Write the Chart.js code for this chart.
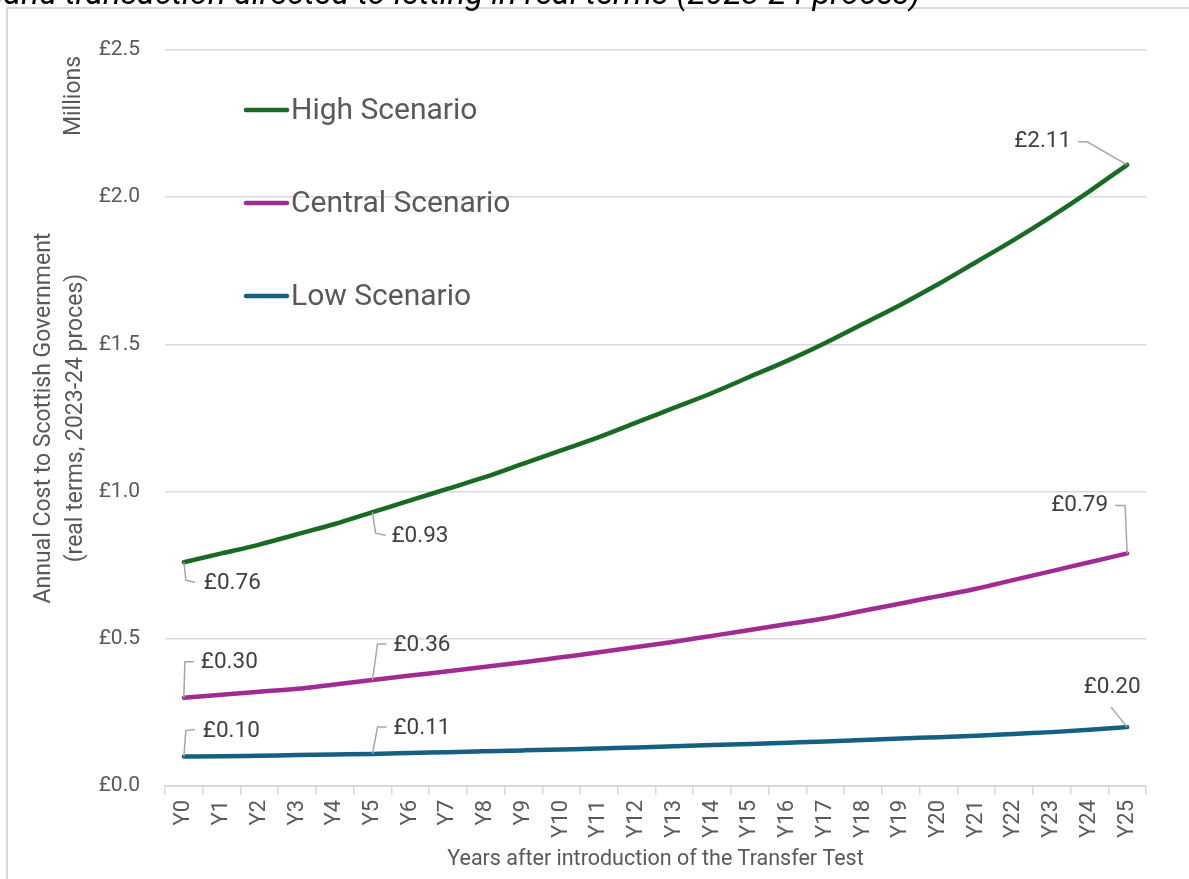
<!DOCTYPE html>
<html>
<head>
<meta charset="utf-8">
<script src="https://cdn.jsdelivr.net/npm/chart.js@4.4.0/dist/chart.umd.min.js"></script>
<style>
  html, body { margin: 0; padding: 0; background: #fff; }
  #wrap { width: 1189px; height: 879px; overflow: hidden; }
</style>
</head>
<body>
<div id="wrap"><canvas id="costChart" width="1189" height="879"></canvas></div>
<script>
// years after the Transfer Test, Y0..Y25
const years = ['Y0', 'Y1', 'Y2', 'Y3', 'Y4', 'Y5', 'Y6', 'Y7', 'Y8', 'Y9', 'Y10', 'Y11', 'Y12',
    'Y13', 'Y14', 'Y15', 'Y16', 'Y17', 'Y18', 'Y19', 'Y20', 'Y21', 'Y22', 'Y23', 'Y24', 'Y25'];

// annual cost, £ millions (real terms)
const highScenario = [0.76, 0.79, 0.82, 0.855, 0.89, 0.93, 0.97, 1.01, 1.05, 1.095, 1.14, 1.185, 1.235,
    1.285, 1.335, 1.39, 1.445, 1.505, 1.57, 1.635, 1.705, 1.78, 1.855, 1.935, 2.02, 2.11];
const centralScenario = [0.30, 0.31, 0.32, 0.33, 0.345, 0.36, 0.375, 0.39, 0.405, 0.42, 0.437, 0.454, 0.472,
    0.49, 0.51, 0.53, 0.55, 0.57, 0.595, 0.62, 0.645, 0.67, 0.70, 0.73, 0.76, 0.79];
const lowScenario = [0.100, 0.101, 0.103, 0.105, 0.107, 0.109, 0.112, 0.115, 0.118, 0.121, 0.124, 0.127, 0.131,
    0.135, 0.139, 0.143, 0.147, 0.151, 0.156, 0.161, 0.166, 0.171, 0.177, 0.183, 0.191, 0.20];

const seriesNames = ['High Scenario', 'Central Scenario', 'Low Scenario'];
const labelledYears = [0, 5, 25];

const yMin = 0;
const yMax = 2.5;
const yStep = 0.5;

const titleLine = 'land transaction directed to letting in real terms (2023-24 proces)';
const FONT = 'Roboto, "Liberation Sans", sans-serif';

// leader lines for the value labels: elbow / end / text offsets from the point
const callouts = {
    0: [
        { elbow: [2, 18], end: [11, 20], text: [20, 21], align: 'left' },
        { elbow: [3, 21], end: [13, 23], text: [19, 24], align: 'left' },
        { elbow: [-40, -23], end: [-49, -23], text: [-56, -23], align: 'right' }
    ],
    1: [
        { elbow: [1, -36], end: [10, -36], text: [17, -35], align: 'left' },
        { elbow: [5, -36], end: [14, -36], text: [21, -35], align: 'left' },
        { elbow: [-2, -48], end: [-12, -48], text: [-19, -48], align: 'right' }
    ],
    2: [
        { elbow: [2, -26], end: [11, -27], text: [19, -25], align: 'left' },
        { elbow: [5, -27], end: [14, -27], text: [21, -26], align: 'left' },
        { elbow: [-16, -20], end: [-16, -20], text: [-15, -40], align: 'center' }
    ]
};

const chartFrame = {
    id: 'chartFrame',
    beforeDraw(chart) {
        const ctx = chart.ctx;
        ctx.save();
        ctx.fillStyle = '#ffffff';
        ctx.fillRect(0, 0, chart.width, chart.height);
        ctx.strokeStyle = '#d9d9d9';
        ctx.lineWidth = 2;
        ctx.strokeRect(7, 8, chart.width + 20, chart.height + 20);

        ctx.fillStyle = '#000000';
        ctx.font = 'italic 33px ' + FONT;
        ctx.textBaseline = 'alphabetic';
        ctx.textAlign = 'left';
        ctx.fillText(titleLine, -4, 4);

        // unit note beside the value axis
        ctx.translate(74, 96);
        ctx.rotate(-Math.PI / 2);
        ctx.fillStyle = '#595959';
        ctx.font = '23px ' + FONT;
        ctx.textAlign = 'center';
        ctx.textBaseline = 'middle';
        ctx.fillText('Millions', 0, 0);
        ctx.restore();
    }
};

const legendInside = {
    id: 'legendInside',
    afterDatasetsDraw(chart) {
        const ctx = chart.ctx;
        const rows = [110, 203, 296];
        ctx.save();
        chart.data.datasets.forEach((ds, i) => {
            const y = rows[i];
            ctx.strokeStyle = ds.borderColor;
            ctx.lineWidth = 4.5;
            ctx.lineCap = 'round';
            ctx.beginPath();
            ctx.moveTo(246, y);
            ctx.lineTo(287, y);
            ctx.stroke();
            ctx.fillStyle = '#595959';
            ctx.font = '30px ' + FONT;
            ctx.textAlign = 'left';
            ctx.textBaseline = 'middle';
            ctx.fillText(ds.label, 291, y + 1);
        });
        ctx.restore();
    }
};

const valueCallouts = {
    id: 'valueCallouts',
    afterDatasetsDraw(chart) {
        const ctx = chart.ctx;
        ctx.save();
        chart.data.datasets.forEach((ds, i) => {
            const meta = chart.getDatasetMeta(i);
            labelledYears.forEach((idx, k) => {
                const pt = meta.data[idx];
                const c = callouts[i][k];
                ctx.strokeStyle = '#a6a6a6';
                ctx.lineWidth = 1.5;
                ctx.beginPath();
                ctx.moveTo(pt.x, pt.y);
                ctx.lineTo(pt.x + c.elbow[0], pt.y + c.elbow[1]);
                ctx.lineTo(pt.x + c.end[0], pt.y + c.end[1]);
                ctx.stroke();
                ctx.fillStyle = '#404040';
                ctx.font = '22.5px ' + FONT;
                ctx.textAlign = c.align;
                ctx.textBaseline = 'middle';
                ctx.fillText('£' + ds.data[idx].toFixed(2), pt.x + c.text[0], pt.y + c.text[1]);
            });
        });
        ctx.restore();
    }
};

function criarGrafico() {
    const ctx = document.getElementById('costChart').getContext('2d');
    const colours = ['#196b24', '#a02b93', '#156082'];
    const values = [highScenario, centralScenario, lowScenario];

    new Chart(ctx, {
        type: 'line',
        data: {
            labels: years,
            datasets: values.map((v, i) => ({
                label: seriesNames[i],
                data: v,
                borderColor: colours[i],
                backgroundColor: colours[i],
                borderWidth: 4.5,
                borderCapStyle: 'round',
                pointRadius: 0,
                cubicInterpolationMode: 'monotone',
                fill: false
            }))
        },
        options: {
            responsive: false,
            animation: false,
            devicePixelRatio: 1,
            layout: { padding: { left: 0, top: 50, right: 43, bottom: 0 } },
            plugins: {
                legend: { display: false },
                tooltip: { enabled: false }
            },
            scales: {
                x: {
                    offset: true,
                    afterFit(scale) { scale.height = 93; },
                    grid: {
                        offset: true,
                        drawOnChartArea: false,
                        drawTicks: true,
                        tickLength: 9,
                        color: '#d9d9d9',
                        lineWidth: 1.5
                    },
                    border: { color: '#d9d9d9', width: 2 },
                    ticks: {
                        autoSkip: false,
                        minRotation: 90,
                        maxRotation: 90,
                        padding: 5,
                        color: '#595959',
                        font: { family: FONT, size: 22 }
                    },
                    title: {
                        display: true,
                        text: 'Years after introduction of the Transfer Test',
                        color: '#595959',
                        font: { family: FONT, size: 21.5 },
                        padding: { top: 0, bottom: 6 }
                    }
                },
                y: {
                    min: yMin,
                    max: yMax,
                    afterFit(scale) { scale.width = 165; },
                    grid: {
                        drawTicks: false,
                        color: '#d9d9d9',
                        lineWidth: 1.5
                    },
                    border: { display: false },
                    ticks: {
                        stepSize: yStep,
                        padding: 25,
                        color: '#595959',
                        font: { family: FONT, size: 21 },
                        callback: v => '£' + v.toFixed(1)
                    },
                    title: {
                        display: true,
                        text: ['Annual Cost to Scottish Government', '(real terms, 2023-24 proces)'],
                        color: '#595959',
                        font: { family: FONT, size: 23, lineHeight: 1.4 },
                        padding: { top: 28, bottom: 0 }
                    }
                }
            }
        },
        plugins: [chartFrame, legendInside, valueCallouts]
    });
}

document.addEventListener('DOMContentLoaded', criarGrafico);
</script>
</body>
</html>
